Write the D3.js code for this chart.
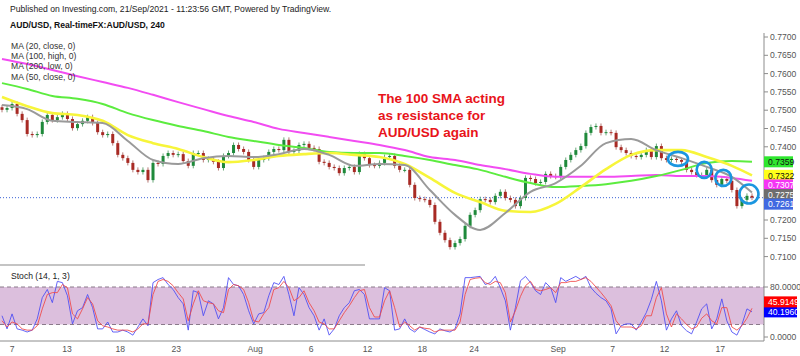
<!DOCTYPE html>
<html><head><meta charset="utf-8">
<script src="https://cdn.jsdelivr.net/npm/d3@7"></script>
<style>body{margin:0;background:#fff}svg{display:block;font-family:"Liberation Sans",Arial,sans-serif}</style>
</head><body><svg id="c" width="800" height="356"></svg>
<script>
// ---- data (4h AUD/USD, ~8h per drawn candle) ----
const closes = [0.7501,0.7506,0.7517,0.7490,0.7473,0.7435,0.7432,0.7435,0.7468,0.7487,
0.7473,0.7481,0.7490,0.7476,0.7451,0.7462,0.7471,0.7481,0.7465,0.7440,
0.7432,0.7435,0.7410,0.7378,0.7369,0.7356,0.7337,0.7331,0.7337,0.7309,
0.7356,0.7353,0.7375,0.7383,0.7378,0.7380,0.7361,0.7348,0.7383,0.7383,
0.7364,0.7367,0.7359,0.7342,0.7375,0.7383,0.7405,0.7394,0.7386,0.7364,
0.7345,0.7364,0.7369,0.7386,0.7394,0.7391,0.7419,0.7386,0.7389,0.7405,
0.7408,0.7397,0.7394,0.7359,0.7356,0.7345,0.7342,0.7328,0.7342,0.7345,
0.7331,0.7380,0.7369,0.7350,0.7348,0.7356,0.7372,0.7375,0.7348,0.7337,
0.7337,0.7296,0.7260,0.7257,0.7255,0.7241,0.7195,0.7165,0.7145,0.7126,
0.7137,0.7148,0.7184,0.7214,0.7227,0.7257,0.7255,0.7249,0.7266,0.7277,
0.7260,0.7255,0.7238,0.7260,0.7315,0.7312,0.7301,0.7304,0.7326,0.7320,
0.7318,0.7345,0.7364,0.7378,0.7391,0.7402,0.7438,0.7454,0.7457,0.7438,
0.7440,0.7438,0.7399,0.7391,0.7383,0.7375,0.7372,0.7378,0.7391,0.7372,
0.7402,0.7369,0.7364,0.7367,0.7364,0.7359,0.7337,0.7331,0.7323,0.7323,
0.7337,0.7309,0.7296,0.7312,0.7307,0.7282,0.7238,0.7255,0.7266,0.7261];
const firstOpen = 0.7508;

const maIndex = [0,5,10,15,20,25,30,35,40,45,50,55,60,65,70,75,80,85,90,95,100,105,110,115,120,125,130,135,140,145,149];
const ma20 = [0.7514,0.7503,0.7471,0.7468,0.7465,0.7416,0.7364,0.7353,0.7369,0.7375,0.7372,0.7380,0.7394,0.7378,0.7348,0.7353,0.7350,0.7282,0.7214,0.7173,0.7219,0.7277,0.7301,0.7348,0.7410,0.7421,0.7391,0.7369,0.7345,0.7318,0.7275];
const ma50 = [0.7536,0.7511,0.7492,0.7487,0.7471,0.7432,0.7410,0.7394,0.7372,0.7358,0.7364,0.7375,0.7380,0.7383,0.7378,0.7372,0.7353,0.7315,0.7274,0.7249,0.7225,0.7222,0.7244,0.7290,0.7339,0.7378,0.7391,0.7391,0.7372,0.7348,0.7322];
const ma100 = [0.7574,0.7558,0.7539,0.7531,0.7517,0.7492,0.7473,0.7457,0.7443,0.7427,0.7416,0.7405,0.7397,0.7386,0.7383,0.7383,0.7375,0.7364,0.7350,0.7337,0.7318,0.7301,0.7290,0.7293,0.7298,0.7307,0.7320,0.7337,0.7356,0.7361,0.7359];
const ma200 = [0.7640,0.7626,0.7610,0.7593,0.7577,0.7561,0.7542,0.7522,0.7503,0.7484,0.7468,0.7449,0.7438,0.7427,0.7416,0.7405,0.7391,0.7372,0.7364,0.7350,0.7339,0.7326,0.7318,0.7318,0.7318,0.7320,0.7323,0.7320,0.7320,0.7315,0.7307];

const stochK = [34,13,37,13,11,8,11,29,63,76,55,89,87,66,21,42,47,68,47,13,
13,24,8,8,11,8,3,16,29,18,87,92,95,84,76,63,53,11,74,71,
34,58,53,29,47,95,84,82,68,42,21,37,39,66,87,84,97,68,34,79,
68,47,34,11,29,3,13,34,47,55,74,76,68,29,29,29,79,74,11,13,
29,13,8,16,12,8,5,13,10,8,13,37,95,95,96,97,84,87,97,79,
58,11,47,90,97,87,74,68,87,79,55,95,89,93,97,92,97,79,70,63,
58,45,5,18,21,21,11,24,39,60,89,58,11,29,42,18,10,5,24,45,
53,13,29,61,26,8,3,20,45,40.196];
const stochD = [26,16,24,21,13,11,11,18,45,68,71,71,84,79,37,29,45,63,53,26,
18,16,13,11,11,11,8,13,21,21,68,89,92,89,82,71,61,26,53,74,
58,55,53,42,39,76,84,82,76,55,26,24,37,47,76,79,89,79,58,63,
74,55,42,24,21,13,13,26,39,50,63,74,76,47,32,32,58,74,47,16,
24,18,11,16,14,13,8,11,11,11,11,24,68,92,94,95,87,84,89,87,
71,24,42,65,82,89,76,74,76,79,71,87,87,89,89,92,95,89,80,71,
61,50,26,16,16,16,13,18,34,34,63,79,37,16,37,29,20,13,16,30,
37,26,21,47,47,16,11,18,30,45.9149];

const dateTickIndex = [2.0,12.9,23.5,34.6,50.3,61.4,72.6,83.5,93.8,110.5,121.3,131.6,142.7];
const dateTickLabels = ["7","13","18","23","Aug","6","12","18","24","Sep","7","12","17"];
const priceTicks = [0.7100,0.7150,0.7200,0.7250,0.7300,0.7350,0.7400,0.7450,0.7500,0.7550,0.7600,0.7650,0.7700];
const stochTicks = [0,80];
const maLegend = ["MA (20, close, 0)","MA (100, high, 0)","MA (200, low, 0)","MA (50, close, 0)"];
const noteLines = ["The 100 SMA acting","as resistance for","AUD/USD again"];
// highlighted touches: [candle index, price]
const circles = [[134.3,0.7367],[139.5,0.7337],[143.3,0.7315],[148.4,0.7271]];

// ---- drawing ----
const svg = d3.select("#c");
const axisX = 764;
const x = d3.scaleLinear().domain([0, closes.length-1]).range([2, 752]);
const y = d3.scaleLinear().domain([0.71, 0.77]).range([256.6, 37]);
const ys = d3.scaleLinear().domain([0, 80]).range([337, 287]);
const fmt = d3.format(".4f");

svg.append("defs").append("clipPath").attr("id","clipMain")
  .append("rect").attr("x",0).attr("y",30).attr("width",axisX).attr("height",232);
svg.append("defs").append("clipPath").attr("id","clipSt")
  .append("rect").attr("x",0).attr("y",266).attr("width",axisX).attr("height",75);

// header
svg.append("text").attr("x",10).attr("y",12).style("font-size","8.6px").attr("fill","#222")
  .text("Published on Investing.com, 21/Sep/2021 - 11:23:56 GMT, Powered by TradingView.");
svg.append("text").attr("x",10).attr("y",28).style("font-size","8.6px").style("font-weight","bold").attr("fill","#111")
  .text("AUD/USD, Real-timeFX:AUD/USD, 240");

const main = svg.append("g").attr("clip-path","url(#clipMain)");

// last price dotted line
main.append("line").attr("x1",0).attr("x2",axisX).attr("y1",y(closes[closes.length-1])).attr("y2",y(closes[closes.length-1]))
  .attr("stroke","#3b62d6").attr("stroke-width",1).attr("stroke-dasharray","1,2");

// candles
const candles = closes.map((c,i)=>({i, o: i===0 ? firstOpen : closes[i-1], c}));
const cg = main.append("g");
candles.forEach(d=>{
  const up = d.c >= d.o;
  const col = up ? "#1f8a3b" : "#a82a24";
  const top = y(Math.max(d.o,d.c)), bot = y(Math.min(d.o,d.c));
  cg.append("line").attr("x1",x(d.i)).attr("x2",x(d.i)).attr("y1",top-2.5).attr("y2",bot+2.5)
    .attr("stroke", up ? "#6aa87a" : "#b57a76").attr("stroke-width",1);
  cg.append("rect").attr("x",x(d.i)-1.5).attr("y",top).attr("width",3).attr("height",Math.max(1,bot-top)).attr("fill",col);
});

// moving averages
const maLine = d3.line().x((d,k)=>x(maIndex[k])).y(d=>y(d)).curve(d3.curveMonotoneX);
[[ma200,"#f24cf2",2],[ma100,"#5cec3f",2],[ma50,"#f7f53a",2.6],[ma20,"#9a9a9a",2]].forEach(([arr,col,w])=>{
  main.append("path").attr("d",maLine(arr)).attr("fill","none").attr("stroke",col).attr("stroke-width",w);
});

// circles
circles.forEach(([ci,p],k)=>{
  const r = [[10,7],[7.5,8],[8,8],[9.5,9.5]][k];
  main.append("ellipse").attr("cx",x(ci)).attr("cy",y(p)).attr("rx",r[0]).attr("ry",r[1])
    .attr("fill","none").attr("stroke","#1a96e0").attr("stroke-width",2.6);
});

// legend
maLegend.forEach((t,k)=>svg.append("text").attr("x",11).attr("y",48.5+k*10.4).style("font-size","8.6px").attr("fill","#333").text(t));

// annotation
noteLines.forEach((t,k)=>svg.append("text").attr("x",378).attr("y",103+k*17).style("font-size","13.5px")
  .style("font-weight","bold").attr("fill","#e8141a").text(t));

// stochastic panel
svg.append("line").attr("x1",0).attr("x2",365).attr("y1",265).attr("y2",265).attr("stroke","#b0b0b0").attr("stroke-width",1.5);
svg.append("text").attr("x",11).attr("y",279).style("font-size","8.6px").attr("fill","#222").text("Stoch (14, 1, 3)");
svg.append("rect").attr("x",0).attr("y",ys(80)).attr("width",axisX).attr("height",ys(20)-ys(80)).attr("fill","#dcbfdd");
[80,20].forEach(v=>svg.append("line").attr("x1",0).attr("x2",axisX).attr("y1",ys(v)).attr("y2",ys(v))
  .attr("stroke","#8a7a8a").attr("stroke-width",1).attr("stroke-dasharray","4,3"));
const st = svg.append("g").attr("clip-path","url(#clipSt)");
const sLine = d3.line().x((d,i)=>x(i)).y(d=>ys(d));
st.append("path").attr("d",sLine(stochK)).attr("fill","none").attr("stroke","#4a4af5").attr("stroke-opacity",0.85).attr("stroke-width",1);
st.append("path").attr("d",sLine(stochD)).attr("fill","none").attr("stroke","#f04646").attr("stroke-opacity",0.85).attr("stroke-width",1);

// axes lines
svg.append("line").attr("x1",axisX).attr("x2",axisX).attr("y1",33).attr("y2",341).attr("stroke","#8c8c8c");
svg.append("line").attr("x1",0).attr("x2",axisX).attr("y1",341).attr("y2",341).attr("stroke","#8c8c8c");

// price tags (collision adjusted)
const last = a=>a[a.length-1];
const mainTags = [
  {v:last(ma100), bg:"#2fe62f", fg:"#111"},
  {v:last(ma50), bg:"#ffff1a", fg:"#111"},
  {v:last(ma200), bg:"#f535f5", fg:"#fff"},
  {v:last(ma20), bg:"#6e6e6e", fg:"#fff"},
  {v:last(closes), bg:"#4169e1", fg:"#fff"}
].map(t=>({...t, y:y(t.v)})).sort((a,b)=>a.y-b.y);
for(let k=1;k<mainTags.length;k++) mainTags[k].y = Math.max(mainTags[k].y, mainTags[k-1].y+9.6);

// price axis ticks (hidden behind tags)
priceTicks.forEach(p=>{
  const py = y(p);
  if (mainTags.some(t=>Math.abs(t.y-py)<9)) return;
  svg.append("line").attr("x1",axisX).attr("x2",axisX+4).attr("y1",py).attr("y2",py).attr("stroke","#8c8c8c");
  svg.append("text").attr("x",axisX+6).attr("y",py+3).style("font-size","8.6px").attr("fill","#555").text(fmt(p));
});
stochTicks.forEach(v=>{
  const py = ys(v);
  svg.append("line").attr("x1",axisX).attr("x2",axisX+4).attr("y1",py).attr("y2",py).attr("stroke","#8c8c8c");
  svg.append("text").attr("x",axisX+6).attr("y",py+3).style("font-size","8.6px").attr("fill","#555").text(fmt(v));
});

function tag(ty, txt, bg, fg, w){
  svg.append("rect").attr("x",axisX).attr("y",ty-5.5).attr("width",w).attr("height",11).attr("fill",bg);
  svg.append("text").attr("x",axisX+4).attr("y",ty+3.2).style("font-size","8.6px").attr("fill",fg).text(txt);
}
mainTags.forEach(t=>tag(t.y, fmt(t.v), t.bg, t.fg, 29));

const stTags = [{v:last(stochD), bg:"#ff0000"},{v:last(stochK), bg:"#0000ff"}].map(t=>({...t,y:ys(t.v)})).sort((a,b)=>b.y-a.y);
for(let k=1;k<stTags.length;k++) stTags[k].y = Math.min(stTags[k].y, stTags[k-1].y-10);
stTags.forEach(t=>tag(t.y, fmt(t.v), t.bg, "#fff", 33));

// date axis
dateTickIndex.forEach((di,k)=>{
  svg.append("text").attr("x",x(di)).attr("y",352).attr("text-anchor","middle").style("font-size","8.6px")
    .attr("fill","#555").text(dateTickLabels[k]);
});
</script></body></html>
